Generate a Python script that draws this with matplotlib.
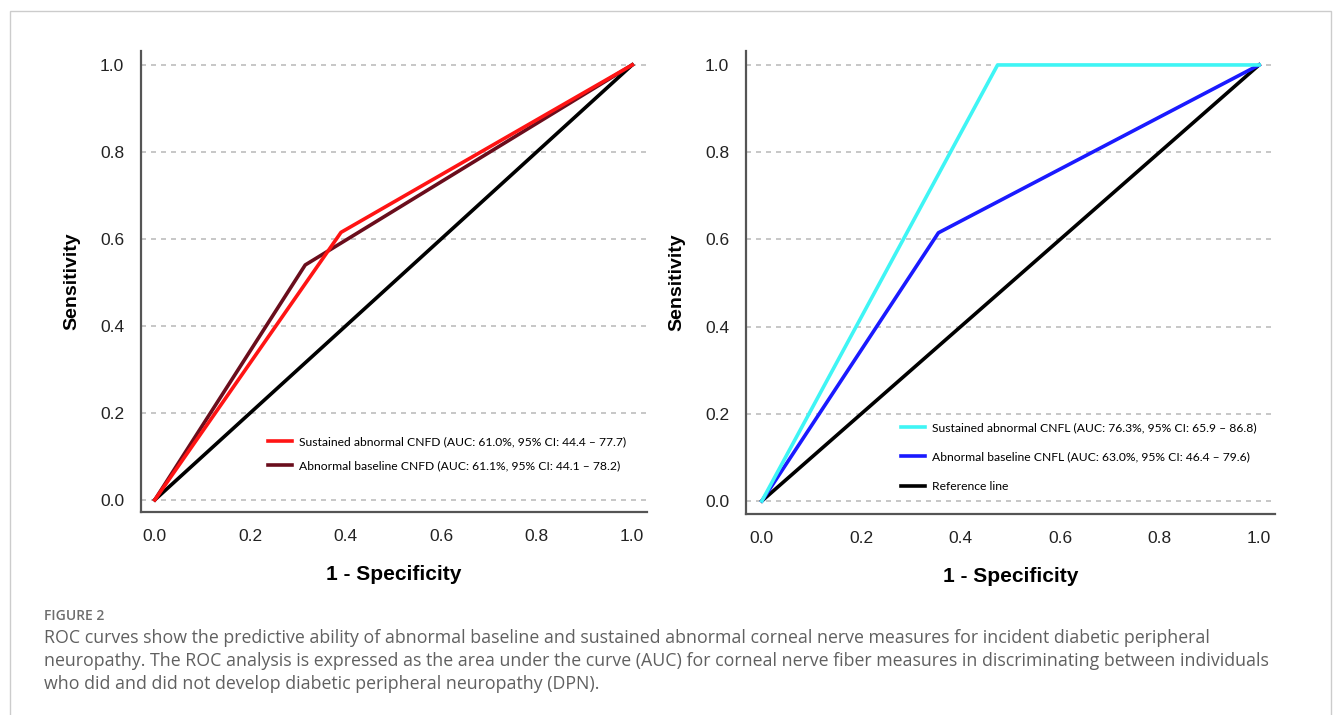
import numpy as np
import matplotlib
matplotlib.use('Agg')
import matplotlib.pyplot as plt
from matplotlib.patches import Rectangle

# ROC points (1 - specificity, sensitivity)
fpr_cnfd_sust = [0.0, 0.39, 1.0]
tpr_cnfd_sust = [0.0, 0.615, 1.0]
fpr_cnfd_base = [0.0, 0.315, 1.0]
tpr_cnfd_base = [0.0, 0.54, 1.0]

fpr_cnfl_sust = [0.0, 0.474, 1.0]
tpr_cnfl_sust = [0.0, 1.0, 1.0]
fpr_cnfl_base = [0.0, 0.355, 1.0]
tpr_cnfl_base = [0.0, 0.615, 1.0]

ref_line = [0.0, 1.0]

lab_cnfd_sust = 'Sustained abnormal CNFD (AUC: 61.0%, 95% CI: 44.4 \u2013 77.7)'
lab_cnfd_base = 'Abnormal baseline CNFD (AUC: 61.1%, 95% CI: 44.1 \u2013 78.2)'
lab_cnfl_sust = 'Sustained abnormal CNFL (AUC: 76.3%, 95% CI: 65.9 \u2013 86.8)'
lab_cnfl_base = 'Abnormal baseline CNFL (AUC: 63.0%, 95% CI: 46.4 \u2013 79.6)'
lab_ref = 'Reference line'

ticks = [0.0, 0.2, 0.4, 0.6, 0.8, 1.0]
tick_labels = ['0.0', '0.2', '0.4', '0.6', '0.8', '1.0']

caption_head = 'FIGURE 2'
caption = ('ROC curves show the predictive ability of abnormal baseline and sustained abnormal corneal nerve measures for incident diabetic peripheral\n'
           'neuropathy. The ROC analysis is expressed as the area under the curve (AUC) for corneal nerve fiber measures in discriminating between individuals\n'
           'who did and did not develop diabetic peripheral neuropathy (DPN).')

plt.rcParams['font.family'] = ['Liberation Sans', 'DejaVu Sans']

W, H = 1335, 715
fig = plt.figure(figsize=(W/100, H/100), dpi=100)

def px_axes(x0, y0, x1, y1):
    return fig.add_axes([x0/W, 1 - y1/H, (x1-x0)/W, (y1-y0)/H])

def style(ax, xlo, xhi, ylo, yhi):
    ax.set_xlim(xlo, xhi)
    ax.set_ylim(ylo, yhi)
    for s in ['top', 'right']:
        ax.spines[s].set_visible(False)
    for s in ['left', 'bottom']:
        ax.spines[s].set_color('#555555')
        ax.spines[s].set_linewidth(1.6)
    for t in ticks:
        ax.axhline(t, color='#bdbdbd', lw=1.2, ls=(0, (3, 3)), zorder=0)
    ax.set_xticks(ticks)
    ax.set_xticklabels(tick_labels)
    ax.set_yticks(ticks)
    ax.set_yticklabels(tick_labels)
    ax.tick_params(length=0, labelsize=12.5, colors='#222222', pad=12)
    ax.set_xlabel('1 - Specificity', fontsize=15, fontweight='bold', labelpad=15)
    ax.set_ylabel('Sensitivity', fontsize=14, fontweight='bold', labelpad=14)

lw = 2.6

# left panel: CNFD
ax1 = px_axes(141, 51, 647, 512)
style(ax1, -0.029, 1.031, -0.028, 1.032)
ax1.plot(ref_line, ref_line, color='black', lw=lw, zorder=2)
l1, = ax1.plot(fpr_cnfd_base, tpr_cnfd_base, color='#6a0d1c', lw=lw, zorder=3, label=lab_cnfd_base)
l2, = ax1.plot(fpr_cnfd_sust, tpr_cnfd_sust, color='#ff1414', lw=lw, zorder=4, label=lab_cnfd_sust)
ax1.legend(handles=[l2, l1], loc='upper left', bbox_to_anchor=(0.251, 0.165),
           frameon=False, borderpad=0, borderaxespad=0, handlelength=2.0,
           handletextpad=0.6, labelspacing=1.1,
           prop={'family': 'Lato', 'size': 8.7})

# right panel: CNFL
ax2 = px_axes(746, 51, 1275, 514)
style(ax2, -0.032, 1.032, -0.030, 1.032)
l5, = ax2.plot(ref_line, ref_line, color='black', lw=lw, zorder=2, label=lab_ref)
l4, = ax2.plot(fpr_cnfl_base, tpr_cnfl_base, color='#1a1aff', lw=lw, zorder=3, label=lab_cnfl_base)
l3, = ax2.plot(fpr_cnfl_sust, tpr_cnfl_sust, color='#3ff5f5', lw=lw, zorder=4, label=lab_cnfl_sust)
ax2.legend(handles=[l3, l4, l5], loc='upper left', bbox_to_anchor=(0.293, 0.199),
           frameon=False, borderpad=0, borderaxespad=0, handlelength=2.0,
           handletextpad=0.6, labelspacing=1.55,
           prop={'family': 'Lato', 'size': 8.7})

# caption
fig.text(44/W, 1 - 616/H, caption_head, fontsize=10, color='#6e6e6e',
         family='Open Sans', fontweight='semibold', va='center')
fig.text(44/W, 1 - 629/H, caption, fontsize=12.8, color='#606060',
         family='Open Sans', va='top', linespacing=1.36)

# outer frame
fig.patches.append(Rectangle((10/W, -0.05), (1331-10)/W, 1.05 - 11/H,
                             transform=fig.transFigure, fill=False,
                             ec='#cccccc', lw=1.0))

fig.savefig('out.png', dpi=100)
